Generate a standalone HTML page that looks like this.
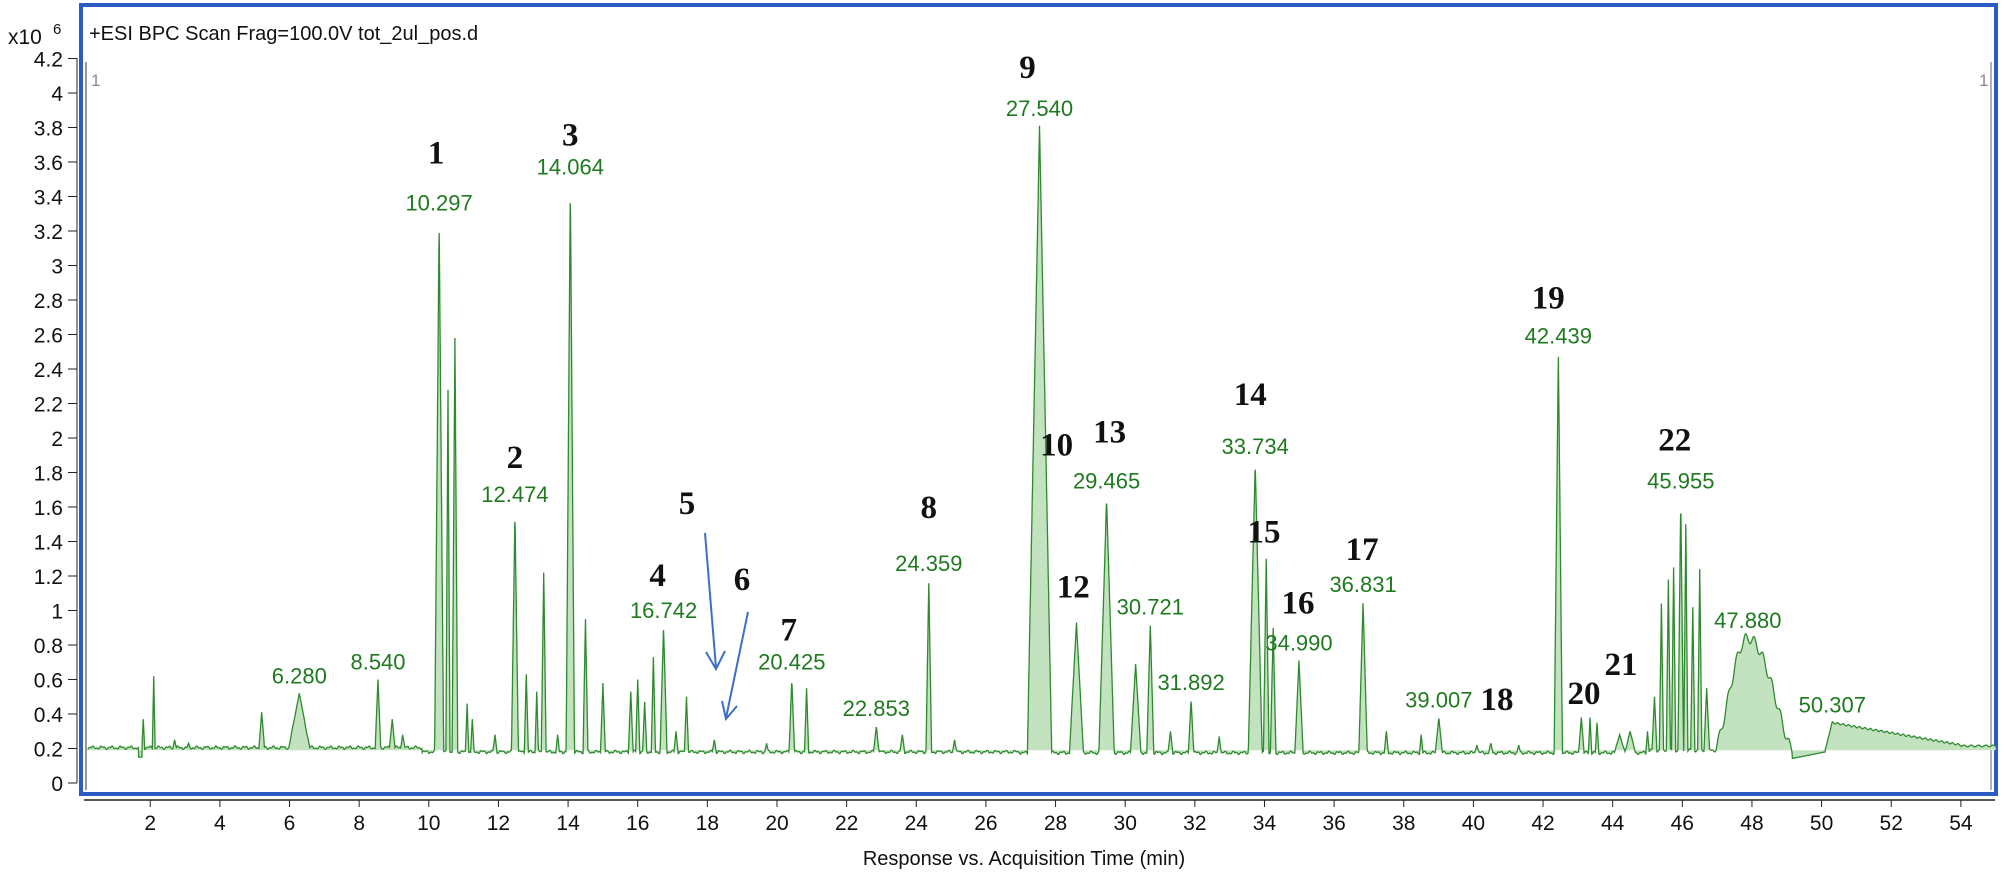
<!DOCTYPE html>
<html><head><meta charset="utf-8">
<style>
html,body{margin:0;padding:0;background:#fff;}
svg{display:block;}
.yl{font-family:"Liberation Sans",sans-serif;font-size:21px;fill:#111;text-anchor:end;}
.xl{font-family:"Liberation Sans",sans-serif;font-size:21px;fill:#111;text-anchor:middle;}
.g{font-family:"Liberation Sans",sans-serif;font-size:22px;fill:#1f7a1f;text-anchor:middle;}
.n{font-family:"Liberation Serif",serif;font-size:33px;font-weight:bold;fill:#111;text-anchor:middle;}
</style></head><body>
<svg id="s" width="2007" height="873" viewBox="0 0 2007 873" xmlns="http://www.w3.org/2000/svg">
<rect x="0" y="0" width="2007" height="873" fill="#fff"/>
<text x="8" y="44" font-family="Liberation Sans,sans-serif" font-size="21" fill="#111">x10</text>
<text x="53" y="34" font-family="Liberation Sans,sans-serif" font-size="15" fill="#111">6</text>
<rect x="81" y="5" width="1915" height="789" fill="none" stroke="#2d5bc4" stroke-width="4"/>
<line x1="86" y1="62" x2="86" y2="790" stroke="#777" stroke-width="1.5"/>
<line x1="1991" y1="62" x2="1991" y2="790" stroke="#999" stroke-width="1.5"/>
<text x="89" y="40" font-family="Liberation Sans,sans-serif" font-size="20" fill="#111">+ESI BPC Scan Frag=100.0V tot_2ul_pos.d</text>
<text x="91" y="86" font-family="Liberation Sans,sans-serif" font-size="17" fill="#888">1</text>
<text x="1979" y="86" font-family="Liberation Sans,sans-serif" font-size="17" fill="#888">1</text>
<line x1="84" y1="800" x2="1995" y2="800" stroke="#222" stroke-width="1.5"/>
<line x1="77" y1="58" x2="77" y2="783" stroke="#222" stroke-width="1"/>
<g id="ax"></g>
<path id="fill" fill="#c3e2bf" stroke="none"/>
<path id="line" fill="none" stroke="#2f8a2f" stroke-width="1.3"/>
<g id="lab"></g>
<text class="xl" x="1024" y="865" style="font-size:20px">Response vs. Acquisition Time (min)</text>
<g stroke="#3d6fc8" stroke-width="2" fill="none">
<line x1="705" y1="533" x2="716" y2="668"/>
<polyline points="706,652 716,669 725,651"/>
<line x1="748" y1="612" x2="726" y2="718"/>
<polyline points="722,701 726,719 737,706"/>
</g>
</svg>
<script>
function X(t){return 80.6+34.82*t;}
function Y(v){return 783-172.5*v;}
var ax=document.getElementById('ax'),h='';
for(var i=0;i<=21;i++){var v=i*0.2,y=Y(v);h+='<line x1="68" y1="'+y+'" x2="77" y2="'+y+'" stroke="#222"/>';
var s=(Math.round(v*10)/10).toString();h+='<text class="yl" x="63" y="'+(y+8)+'">'+s+'</text>';}
for(var t=2;t<=54;t+=2){var x=X(t);h+='<line x1="'+x+'" y1="800" x2="'+x+'" y2="807" stroke="#222"/>';
h+='<text class="xl" x="'+x+'" y="830">'+t+'</text>';}
ax.innerHTML=h;
var P=[[1.8,.37,.04],[2.1,.62,.04],[2.7,.25,.05],[3.1,.23,.04],[5.2,.41,.08],[6.28,.52,.3],[8.54,.6,.08],[8.95,.37,.08],[9.25,.28,.06],
[10.297,3.26,.13],[10.55,2.28,.06],[10.75,2.58,.08],[11.1,.46,.05],[11.25,.37,.05],[11.9,.28,.06],[12.474,1.57,.1],[12.8,.63,.06],[13.1,.53,.05],[13.3,1.22,.07],[13.7,.28,.05],
[14.064,3.47,.12],[14.5,.95,.07],[15.0,.58,.07],[15.8,.53,.07],[16.0,.6,.06],[16.2,.47,.06],[16.45,.73,.06],[16.742,.9,.1],[17.1,.3,.06],[17.4,.5,.06],[18.2,.25,.06],[19.7,.23,.05],
[20.425,.6,.08],[20.85,.55,.06],[22.853,.33,.08],[23.6,.28,.07],[24.359,1.17,.08],[25.1,.25,.06],[27.54,3.81,.35],[28.6,.93,.2],[29.465,1.65,.22],[30.3,.69,.15],[30.721,.92,.1],
[31.3,.3,.07],[31.892,.48,.08],[32.7,.27,.06],[33.734,1.85,.2],[34.05,1.3,.08],[34.25,.9,.08],[34.99,.71,.12],[36.831,1.05,.12],[37.5,.3,.06],[38.5,.28,.05],[39.007,.38,.1],
[40.1,.22,.06],[40.5,.23,.06],[41.3,.22,.05],[42.439,2.49,.12],[43.1,.38,.08],[43.35,.38,.05],[43.55,.35,.05],[44.2,.28,.15],[44.5,.3,.15],[45.0,.3,.05],[45.2,.5,.07],[45.4,1.04,.06],
[45.6,1.18,.06],[45.75,1.25,.06],[45.955,1.65,.08],[46.1,1.5,.06],[46.3,1.02,.06],[46.5,1.24,.06],[46.7,.55,.08]];
function base(t){var b;if(t<9.8)b=.205;else if(t<27)b=.18;else if(t<45)b=.175;else b=.19;
b+=0.006*Math.sin(t*23)+0.004*Math.sin(t*57);
if(Math.abs(t-1.72)<.05)b=.15;if(t>49.1&&t<50.1)b=.14+(t-49.1)*0.04;return b;}
function broad(t){
 if(t<46.9||t>49.15)return 0;
 var v;
 if(t<47.88){var u=(t-46.9)/0.98;v=0.19+0.65*Math.pow(Math.sin(u*Math.PI/2),1.6);}
 else{var u=(t-47.88)/1.27;v=0.19+0.65*Math.pow(Math.cos(u*Math.PI/2),1.3);}
 v+=0.03*Math.sin(t*25);return v;}
var pts=[];
for(var t=0.2;t<=55.001;t+=0.01){var b=base(t),v=b;
for(var k=0;k<P.length;k++){var p=P[k],d=Math.abs(t-p[0]);if(d<p[2]){var s=1-d/p[2];var vv=b+(p[1]-b)*s;if(vv>v)v=vv;}}
var bb=broad(t);if(bb>v)v=bb;
if(t>=50.1&&t<54){var vv;if(t<50.3)vv=b+(0.35-b)*(t-50.1)/0.2;else vv=0.35-(t-50.3)*0.035+0.005*Math.sin(t*40);if(vv>v)v=vv;}
if(t>=54)v=0.215+0.005*Math.sin(t*30);
pts.push([X(t),Y(v)]);}
var d='M'+pts.map(function(p){return p[0].toFixed(1)+','+p[1].toFixed(1);}).join('L');
document.getElementById('line').setAttribute('d',d);
document.getElementById('fill').setAttribute('d',d+'L'+pts[pts.length-1][0]+','+Y(0.19)+'L'+pts[0][0]+','+Y(0.19)+'Z');
var G={"10.297":[10.297,3.26],"14.064":[14.064,3.47],"12.474":[12.474,1.57],"6.280":[6.28,0.52],"8.540":[8.54,0.6],"16.742":[16.742,0.9],
"20.425":[20.425,0.6],"22.853":[22.853,0.33],"24.359":[24.359,1.17],"27.540":[27.54,3.81],"29.465":[29.465,1.65],"30.721":[30.721,0.92],
"31.892":[31.892,0.48],"33.734":[33.734,1.85],"34.990":[34.99,0.71],"36.831":[36.831,1.05],"39.007":[39.007,0.38],"42.439":[42.439,2.49],
"45.955":[45.955,1.65],"47.880":[47.88,0.84],"50.307":[50.307,0.35]};
var L={};var lh='';
for(var k in G){var x=X(G[k][0]),y=Y(G[k][1])-10;L[k]=[x,y];lh+='<text class="g" x="'+x.toFixed(1)+'" y="'+y.toFixed(1)+'">'+k+'</text>';}
var N=[["1","10.297",-3,-47],["3","14.064",0,-29],["2","12.474",0,-34],["4","16.742",-6,-32],["7","20.425",-3,-29],["8","24.359",0,-53],
["9","27.540",-12,-38],["10","29.465",-50,-33],["13","29.465",3,-46],["12","30.721",-77,-17],["14","33.734",-5,-49],["15","34.990",-35,-108],
["16","34.990",-1,-37],["17","36.831",-1,-32],["19","42.439",-10,-35],["22","45.955",-6,-38]];
N.forEach(function(n){var l=L[n[1]];lh+='<text class="n" x="'+(l[0]+n[2]).toFixed(1)+'" y="'+(l[1]+n[3]).toFixed(1)+'">'+n[0]+'</text>';});
[["18",1497,710],["20",1584,704],["21",1621,675],["5",687,514],["6",742,590]].forEach(function(n){
 lh+='<text class="n" x="'+n[1]+'" y="'+n[2]+'">'+n[0]+'</text>';});
document.getElementById('lab').innerHTML=lh;
</script>
</body></html>
